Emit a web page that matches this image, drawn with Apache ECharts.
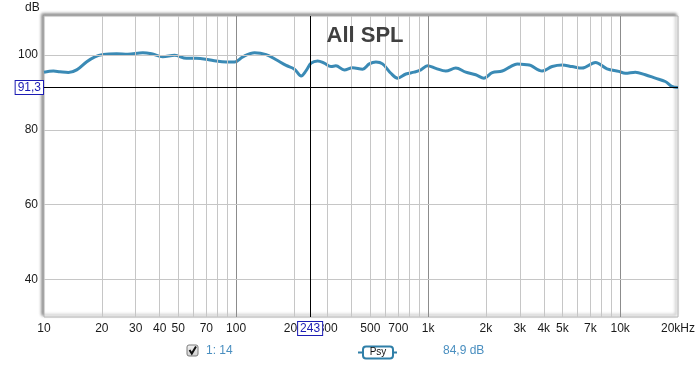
<!DOCTYPE html>
<html><head><meta charset="utf-8">
<script src="https://cdn.jsdelivr.net/npm/echarts@6/dist/echarts.min.js"></script>
<style>html,body{margin:0;padding:0;background:#fff}#c{width:700px;height:369px}</style>
</head><body><div id="c"></div>
<script>
// ---- data ----
const freqs = [10, 11.2, 12.1, 13.4, 14.8, 16.7, 18.4, 20.3, 23.9, 27.3, 32.7, 36.3, 41.5, 47.9, 55.1, 62.1, 71.1, 75.8, 88.9, 98.2,
  108.5, 124.8, 143.5, 161.8, 182.3, 201.4, 218.2, 231.6, 245.8, 266, 288, 312, 331, 366, 404, 456, 494, 535, 579, 640,
  693, 766, 846, 917, 992, 1096, 1236, 1393, 1570, 1769, 1954, 2158, 2432, 2689, 2910, 3280, 3416, 3925, 4423, 4985,
  5618, 6332, 7433, 8542, 9822, 10640, 11995, 13517, 15233, 17170, 18580, 20000];
const spl = [95.4, 95.7, 95.5, 95.3, 96.0, 98.2, 99.5, 100.1, 100.3, 100.2, 100.6, 100.3, 99.5, 99.9, 99.1, 99.1, 98.8, 98.5, 98.1, 98.1,
  99.5, 100.6, 100.1, 98.7, 97.2, 96.2, 94.4, 95.8, 97.8, 98.4, 97.8, 96.9, 97.1, 96.0, 96.6, 96.2, 97.6, 98.1, 97.6, 95.1,
  93.8, 94.9, 95.4, 96.0, 97.1, 96.4, 95.7, 96.5, 95.4, 94.7, 93.8, 95.3, 95.7, 96.9, 97.6, 97.4, 97.2, 95.7, 96.9, 97.3,
  96.9, 96.5, 98.0, 96.3, 95.6, 95.1, 95.4, 94.7, 93.8, 92.9, 91.6, 91.3];
const xTickValues = [10, 20, 30, 40, 50, 70, 100, 200, 300, 500, 700, 1000, 2000, 3000, 4000, 5000, 7000, 10000, 20000];
const xTickLabels = ['10', '20', '30', '40', '50', '70', '100', '200', '300', '500', '700', '1k', '2k', '3k', '4k', '5k', '7k', '10k', '20kHz'];
const xMinorGrid = [20, 30, 40, 50, 60, 70, 80, 90, 200, 300, 400, 500, 600, 700, 800, 900, 2000, 3000, 4000, 5000, 6000, 7000, 8000, 9000];
const xMajorGrid = [100, 1000, 10000];
const yGrid = [40, 60, 80, 100];
const cursorFreq = 243;
const cursorLevel = 91.3;
const cursorFreqLabel = '243';
const cursorLevelLabel = '91,3';
const titleText = 'All SPL';
const legendName = '1: 14';
const legendValue = '84,9 dB';

const FONT = '"Liberation Sans", Arial, sans-serif';
const curveColor = '#3a8ab5';
const chart = echarts.init(document.getElementById('c'), null, {renderer: 'canvas'});

const pts = freqs.map((f, i) => [f, spl[i]]);

const gridLines = [];
xMinorGrid.forEach(v => gridLines.push({xAxis: v, lineStyle: {color: '#c6c6c6', width: 1, type: 'solid'}}));
xMajorGrid.forEach(v => gridLines.push({xAxis: v, lineStyle: {color: '#8c8c8c', width: 1, type: 'solid'}}));
yGrid.forEach(v => gridLines.push({yAxis: v, lineStyle: {color: '#c6c6c6', width: 1, type: 'solid'}}));

const tickLabels = xTickValues.map((v, i) => ({
  xAxis: v,
  lineStyle: {color: 'rgba(255,255,255,0)', width: 1},
  label: {show: true, formatter: xTickLabels[i], position: 'start', distance: 6,
    color: '#1a1a1a', fontSize: 12, fontFamily: FONT}
}));

const option = {
  animation: false,
  backgroundColor: '#fff',
  grid: {left: 44, right: 22, top: 16, bottom: 52, show: true, backgroundColor: '#fff',
    borderColor: '#b4b4b4', borderWidth: 1,
    shadowColor: 'rgba(0,0,0,0.45)', shadowBlur: 3, shadowOffsetX: -2, shadowOffsetY: -2},
  title: {text: titleText, left: 360, top: 20, textAlign: 'center',
    textStyle: {fontSize: 22, fontWeight: 'bold', color: '#404040', fontFamily: FONT}},
  xAxis: {type: 'log', logBase: 10, min: 10, max: 20000,
    axisLine: {show: false}, axisTick: {show: false}, axisLabel: {show: false},
    splitLine: {show: false}, minorSplitLine: {show: false}},
  yAxis: {type: 'value', min: 30, max: 110.4, interval: 10,
    axisLine: {show: false}, axisTick: {show: false}, splitLine: {show: false},
    axisLabel: {color: '#1a1a1a', fontSize: 12, fontFamily: FONT, margin: 6,
      showMaxLabel: false,
      formatter: v => (v % 20 === 0 ? String(v) : '')}},
  graphic: [
    {type: 'text', left: 25, top: 2, style: {text: 'dB', fontSize: 12, fontFamily: FONT, fill: '#1a1a1a'}},
    // legend: checkbox
    {type: 'rect', shape: {x: 187, y: 345, width: 11, height: 11, r: 2},
      style: {fill: {type: 'linear', x: 0, y: 0, x2: 0, y2: 1, colorStops: [{offset: 0, color: '#f4f4f4'}, {offset: 1, color: '#cfcfcf'}]},
        stroke: '#7a7a7a', lineWidth: 1}},
    {type: 'polyline', shape: {points: [[189.5, 350], [191.8, 353.5], [196, 346.5]]},
      style: {stroke: '#111', lineWidth: 2, fill: null}},
    {type: 'text', x: 206, y: 345, style: {text: legendName, fontSize: 12, fontFamily: FONT, fill: '#4a8fc0'}},
    // Psy button
    {type: 'line', shape: {x1: 358, y1: 352.5, x2: 397, y2: 352.5}, style: {stroke: '#2f7fa8', lineWidth: 2}},
    {type: 'rect', shape: {x: 363, y: 346.5, width: 30, height: 12, r: 3},
      style: {fill: '#fff', stroke: '#2f7fa8', lineWidth: 2}},
    {type: 'text', x: 378, y: 352.5, style: {text: 'Psy', fontSize: 10, fontFamily: FONT, fill: '#111',
      align: 'center', verticalAlign: 'middle'}},
    {type: 'text', x: 443, y: 345, style: {text: legendValue, fontSize: 12, fontFamily: FONT, fill: '#4a8fc0'}}
  ],
  series: [
    {type: 'line', data: pts, z: 1, symbol: 'none', silent: true,
      lineStyle: {opacity: 0},
      markLine: {silent: true, symbol: ['none', 'none'], animation: false, label: {show: false},
        data: gridLines}},
    {type: 'line', data: pts, z: 2, symbol: 'none', silent: true,
      lineStyle: {opacity: 0},
      markLine: {silent: true, symbol: ['none', 'none'], animation: false,
        data: tickLabels}},
    {type: 'line', data: pts, z: 3, symbol: 'none', smooth: 0.35,
      lineStyle: {color: curveColor, width: 3}},
    {type: 'line', data: pts, z: 4, symbol: 'none', silent: true,
      lineStyle: {opacity: 0},
      markLine: {silent: true, symbol: ['none', 'none'], animation: false,
        data: [
          {xAxis: cursorFreq, lineStyle: {color: '#000', width: 1, type: 'solid'},
            label: {show: true, formatter: cursorFreqLabel, position: 'start', distance: 5,
              color: '#1c1cb4', fontSize: 12, fontFamily: FONT, backgroundColor: '#fff',
              borderColor: '#1c1cb4', borderWidth: 1, padding: [1, 2, 0, 2]}},
          {yAxis: cursorLevel, lineStyle: {color: '#000', width: 1, type: 'solid'},
            label: {show: true, formatter: cursorLevelLabel, position: 'start', distance: 1,
              color: '#1c1cb4', fontSize: 12, fontFamily: FONT, backgroundColor: '#fff',
              borderColor: '#1c1cb4', borderWidth: 1, padding: [1, 2, 0, 2]}}
        ]}}
  ]
};
chart.setOption(option);
</script>
</body></html>
